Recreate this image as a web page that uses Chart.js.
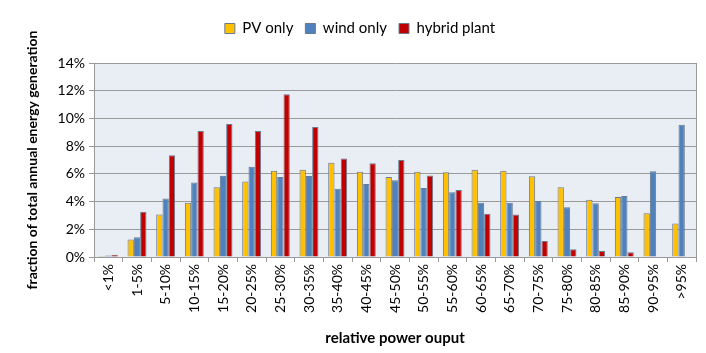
<!DOCTYPE html>
<html>
<head>
<meta charset="utf-8">
<script src="https://cdn.jsdelivr.net/npm/chart.js@4.4.1/dist/chart.umd.min.js"></script>
<style>
  html, body { margin: 0; padding: 0; background: #fff; }
  #wrap { width: 706px; height: 353px; position: relative; }
</style>
</head>
<body>
<div id="wrap"><canvas id="chart"></canvas></div>
<script>
/* -------- DATA -------- */
const categories = ["<1%", "1-5%", "5-10%", "10-15%", "15-20%", "20-25%", "25-30%",
  "30-35%", "35-40%", "40-45%", "45-50%", "50-55%", "55-60%", "60-65%", "65-70%",
  "70-75%", "75-80%", "80-85%", "85-90%", "90-95%", ">95%"];

const pvOnly = [0.07, 1.26, 3.06, 3.92, 5.03, 5.44, 6.23, 6.3, 6.81, 6.16, 5.77,
  6.16, 6.11, 6.3, 6.23, 5.82, 5.03, 4.14, 4.33, 3.15, 2.41];
const windOnly = [0.1, 1.42, 4.23, 5.37, 5.87, 6.52, 5.77, 5.84, 4.93, 5.27, 5.53,
  4.98, 4.67, 3.92, 3.92, 4.04, 3.59, 3.87, 4.4, 6.18, 9.55];
const hybridPlant = [0.17, 3.27, 7.34, 9.09, 9.6, 9.09, 11.74, 9.38, 7.1, 6.76, 7.0,
  5.89, 4.84, 3.13, 3.06, 1.16, 0.56, 0.44, 0.34, 0, 0];

const yTicks = [0, 2, 4, 6, 8, 10, 12, 14];

/* -------- plot background -------- */
const plotBg = {
  id: "plotBg",
  beforeDraw(chart) {
    const a = chart.chartArea, c = chart.ctx;
    c.save();
    c.fillStyle = "#e9edf4";
    c.fillRect(a.left, a.top, a.right - a.left, a.bottom - a.top);
    c.restore();
  }
};

/* -------- extra space under legend -------- */
const legendGap = {
  id: "legendGap",
  beforeInit(chart) {
    const fit = chart.legend.fit;
    chart.legend.fit = function () {
      fit.bind(chart.legend)();
      this.height += 17;
    };
  }
};

const barBorder = "#6a7a8e";
const font = "Lato, 'Liberation Sans', sans-serif";

new Chart(document.getElementById("chart"), {
  type: "bar",
  data: {
    labels: categories,
    datasets: [
      { label: "PV only", data: pvOnly, backgroundColor: "#ffc000", borderColor: barBorder, borderWidth: 1 },
      { label: "wind only", data: windOnly, backgroundColor: "#4f81bd", borderColor: barBorder, borderWidth: 1 },
      { label: "hybrid plant", data: hybridPlant, backgroundColor: "#c00000", borderColor: barBorder, borderWidth: 1 }
    ]
  },
  options: {
    responsive: true,
    maintainAspectRatio: false,
    animation: false,
    layout: { padding: { top: 9, right: 10, left: 24, bottom: 0 } },
    datasets: { bar: { categoryPercentage: 0.66, barPercentage: 1.0 } },
    plugins: {
      legend: {
        position: "top",
        labels: {
          boxWidth: 10, boxHeight: 10, padding: 12,
          color: "#000",
          font: { family: font, size: 15 }
        }
      },
      tooltip: { enabled: false }
    },
    scales: {
      x: {
        grid: { display: true, drawOnChartArea: false, drawTicks: true, tickLength: 5, color: "#999", offset: true },
        border: { display: true, color: "#999" },
        ticks: { minRotation: 90, maxRotation: 90, autoSkip: false, color: "#000", padding: 2,
                 font: { family: font, size: 14 } },
        title: { display: true, text: "relative power ouput", color: "#000",
                 font: { family: font, size: 15, weight: "bold" }, padding: { top: 4, bottom: 6 } },
        afterFit(scale) { scale.height = 96; }
      },
      y: {
        min: 0, max: 14,
        afterBuildTicks(scale) { scale.ticks = yTicks.map(v => ({ value: v })); },
        grid: { color: "#9a9a9a", drawTicks: true, tickLength: 5, lineWidth: 1 },
        border: { display: true, color: "#999" },
        ticks: { color: "#000", padding: 4, callback: v => v + "%",
                 font: { family: font, size: 14 } },
        title: { display: true, text: "fraction of total annual energy generation", color: "#000",
                 font: { family: font, size: 14, weight: "bold" }, padding: { top: 0, bottom: 4 } },
        afterFit(scale) { scale.width = 70; }
      }
    }
  },
  plugins: [plotBg, legendGap, {
    id: "rightBorder",
    afterDatasetsDraw(chart) {
      const a = chart.chartArea, c = chart.ctx;
      c.save();
      c.strokeStyle = "#999";
      c.lineWidth = 1;
      c.beginPath();
      c.moveTo(a.right + 0.5, a.top);
      c.lineTo(a.right + 0.5, a.bottom);
      c.stroke();
      c.restore();
    }
  }]
});
</script>
</body>
</html>
